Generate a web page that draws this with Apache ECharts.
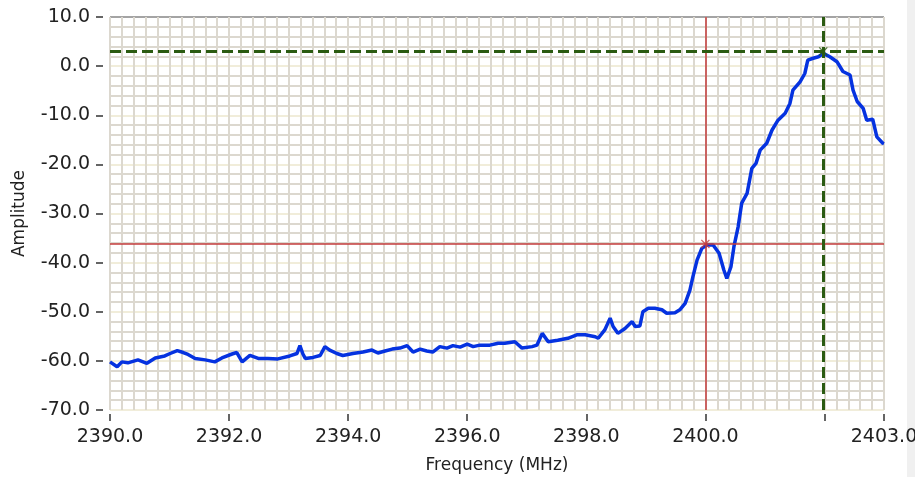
<!DOCTYPE html>
<html>
<head>
<meta charset="utf-8">
<script src="https://cdn.jsdelivr.net/npm/echarts@6/dist/echarts.min.js"></script>
<style>
  html, body { margin: 0; padding: 0; background: #fff; }
  #chart1 { width: 915px; height: 477px; }
</style>
</head>
<body>
<div id="chart1"></div>
<script>
// 频率 (MHz)
const freq = [
  2390.00, 2390.12, 2390.20, 2390.30, 2390.47, 2390.62, 2390.76, 2390.92, 2391.01, 2391.13,
  2391.23, 2391.31, 2391.43, 2391.60, 2391.76, 2391.88, 2392.05, 2392.13, 2392.22, 2392.35,
  2392.49, 2392.65, 2392.82, 2393.02, 2393.14, 2393.19, 2393.24, 2393.28, 2393.41, 2393.53,
  2393.61, 2393.69, 2393.81, 2393.91, 2394.08, 2394.25, 2394.40, 2394.50, 2394.62, 2394.74,
  2394.87, 2394.99, 2395.09, 2395.21, 2395.32, 2395.42, 2395.54, 2395.66, 2395.76, 2395.88,
  2396.00, 2396.10, 2396.21, 2396.38, 2396.52, 2396.63, 2396.80, 2396.92, 2397.09, 2397.17,
  2397.26, 2397.36, 2397.52, 2397.69, 2397.84, 2397.98, 2398.15, 2398.20, 2398.31, 2398.40,
  2398.45, 2398.53, 2398.65, 2398.77, 2398.82, 2398.90, 2398.95, 2399.04, 2399.15, 2399.27,
  2399.35, 2399.49, 2399.57, 2399.66, 2399.74, 2399.79, 2399.86, 2399.94, 2400.03, 2400.13,
  2400.23, 2400.31, 2400.36, 2400.43, 2400.48, 2400.55, 2400.61, 2400.70, 2400.78, 2400.85,
  2400.92, 2401.03, 2401.12, 2401.22, 2401.34, 2401.42, 2401.47, 2401.59, 2401.67, 2401.72,
  2401.81, 2401.90, 2401.98, 2402.09, 2402.21, 2402.31, 2402.43, 2402.48, 2402.55, 2402.65,
  2402.71, 2402.81, 2402.88, 2402.98, 2403.00
];

// 幅度
const amplitude = [
  -60.2, -61.2, -60.2, -60.4, -59.8, -60.5, -59.4, -59.0, -58.5, -57.9,
  -58.3, -58.7, -59.5, -59.8, -60.2, -59.4, -58.6, -58.3, -60.2, -58.9,
  -59.5, -59.5, -59.6, -59.0, -58.5, -56.9, -58.6, -59.5, -59.3, -58.9,
  -57.1, -57.8, -58.5, -58.9, -58.5, -58.2, -57.8, -58.4, -58.0, -57.6,
  -57.4, -56.9, -58.2, -57.6, -58.0, -58.2, -57.1, -57.4, -56.9, -57.2,
  -56.6, -57.1, -56.8, -56.8, -56.4, -56.4, -56.1, -57.4, -57.1, -56.8,
  -54.4, -56.1, -55.8, -55.4, -54.7, -54.7, -55.1, -55.4, -53.7, -51.3,
  -53.0, -54.4, -53.4, -52.0, -53.0, -52.9, -50.0, -49.3, -49.3, -49.6,
  -50.3, -50.2, -49.6, -48.3, -45.6, -42.9, -39.5, -37.1, -36.4, -36.4,
  -38.1, -41.5, -43.2, -40.8, -36.7, -32.7, -27.9, -25.9, -20.8, -19.8,
  -17.1, -15.7, -13.0, -11.0, -9.6, -7.6, -4.9, -3.2, -1.5, 1.2,
  1.6, 1.9, 2.6, 1.9, 0.9, -1.1, -1.8, -4.9, -7.2, -8.6,
  -11.0, -10.8, -14.4, -15.7, -15.8
];

// 游标
const cursor1 = [2400.0, -36.2];
const cursor2 = [2401.98, 3.0];

const CREAM = '#f1edda';
const MINOR = '#dcd8cf';
const BORDER = '#a4a4a4';
const FONT = 'DejaVu Sans';

function initChart() {
    const chart = echarts.init(document.getElementById('chart1'), null, { renderer: 'canvas' });

    const xColors = [BORDER, CREAM, CREAM, CREAM, CREAM, CREAM, CREAM, CREAM];
    const yColors = [CREAM, CREAM, CREAM, CREAM, CREAM, CREAM, CREAM, CREAM, BORDER];
    const crossPath = 'path://M0,1L1,0L5,4L9,0L10,1L6,5L10,9L9,10L5,6L1,10L0,9L4,5Z';

    const option = {
        animation: false,
        backgroundColor: '#ffffff',
        grid: { left: 110, right: 31, top: 17, bottom: 67, outerBoundsMode: 'none' },
        graphic: [
            { type: 'rect', right: 0, top: 0, shape: { width: 8, height: 477 }, style: { fill: '#f0f0f0' } }
        ],
        xAxis: [
            {
                type: 'value', min: 2390, max: 2403, interval: 2,
                name: 'Frequency (MHz)', nameLocation: 'middle', nameGap: 43,
                nameTextStyle: { fontFamily: FONT, fontSize: 17, color: '#222' },
                offset: 4,
                axisLine: { show: false, onZero: false },
                axisTick: { show: true, length: 7, lineStyle: { color: '#333', width: 1.5 } },
                axisLabel: {
                    fontFamily: FONT, fontSize: 19, color: '#222', margin: 14,
                    formatter: v => (Math.abs(v - 2402) < 1e-6 ? '' : v.toFixed(1))
                },
                splitLine: { show: true, lineStyle: { color: xColors, width: 2 } }
            },
            {
                type: 'value', min: 2390, max: 2403, interval: 0.2, position: 'top',
                axisLine: { show: false, onZero: false }, axisTick: { show: false }, axisLabel: { show: false },
                splitLine: { show: true, lineStyle: { color: MINOR, width: 2 } }
            }
        ],
        yAxis: [
            {
                type: 'value', min: -70, max: 10, interval: 10,
                name: 'Amplitude', nameLocation: 'middle', nameGap: 75, nameRotate: 90,
                nameTextStyle: { fontFamily: FONT, fontSize: 17, color: '#222' },
                offset: 7,
                axisLine: { show: false, onZero: false },
                axisTick: { show: true, length: 7, lineStyle: { color: '#333', width: 1.5 } },
                axisLabel: {
                    fontFamily: FONT, fontSize: 19, color: '#222', margin: 13,
                    formatter: v => v.toFixed(1)
                },
                splitLine: { show: true, lineStyle: { color: yColors, width: 2 } },
                minorTick: { show: false, splitNumber: 5 },
                minorSplitLine: { show: true, lineStyle: { color: MINOR, width: 2 } }
            }
        ],
        series: [
            {
                type: 'line',
                name: 'Amplitude',
                data: freq.map((f, i) => [f, amplitude[i]]),
                showSymbol: false,
                symbol: 'none',
                lineStyle: { color: '#0532e0', width: 3.5 },
                z: 3
            },
            {
                type: 'scatter',
                name: 'Cursor 0',
                data: [cursor1],
                symbol: crossPath,
                symbolSize: 9,
                itemStyle: { color: '#c43c3c' },
                silent: true,
                z: 5,
                markLine: {
                    silent: true,
                    symbol: 'none',
                    label: { show: false },
                    lineStyle: { color: '#c43c3c', width: 1.5, type: 'solid' },
                    data: [{ xAxis: cursor1[0] }, { yAxis: cursor1[1] }]
                }
            },
            {
                type: 'scatter',
                name: 'Cursor 1',
                data: [cursor2],
                symbol: crossPath,
                symbolSize: 9,
                itemStyle: { color: '#2b5b12' },
                silent: true,
                z: 5,
                markLine: {
                    silent: true,
                    symbol: 'none',
                    label: { show: false },
                    lineStyle: { color: '#2b5b12', width: 3, type: [11, 5] },
                    data: [{ xAxis: cursor2[0] }, { yAxis: cursor2[1] }]
                }
            }
        ]
    };

    chart.setOption(option);
}

window.addEventListener('load', initChart);
</script>
</body>
</html>
